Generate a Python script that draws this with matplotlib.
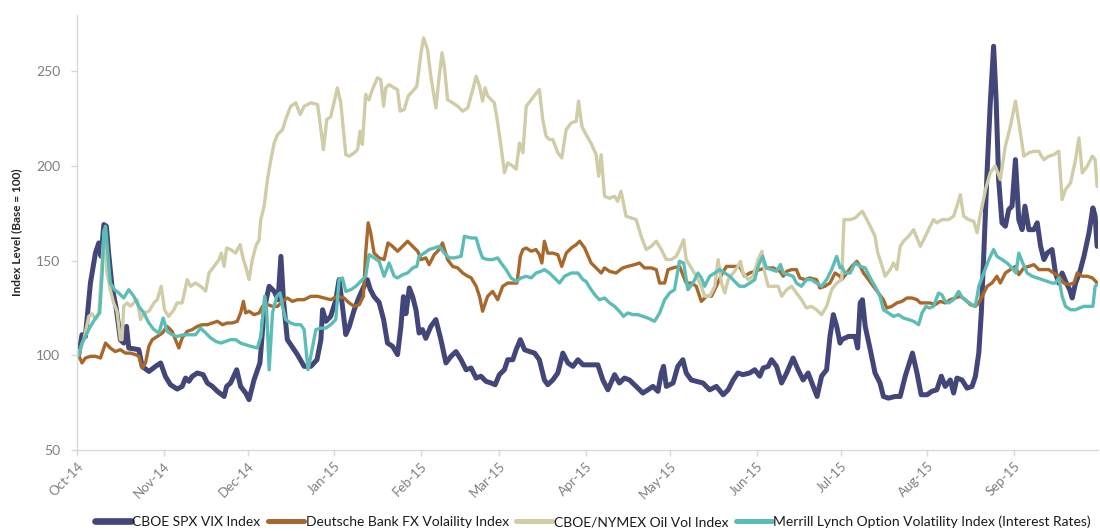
import matplotlib
matplotlib.use("Agg")
import matplotlib.pyplot as plt
import matplotlib.dates as mdates
import pandas as pd

# ---------------- data (days elapsed since base date, index level) ----------------
BASE_DATE = "2014-10-01"

vix_days = [0.6, 1.8, 3.0, 4.8, 6.6, 7.8, 8.6, 9.6, 10.5, 11.3, 12.5, 14.1, 15.5, 16.7, 17.7, 18.5, 22.1, 23.3, 25.7, 28.1,
            29.9, 31.6, 33.4, 35.8, 37.6, 38.8, 40.0, 41.2, 43.0, 45.1, 46.6, 48.4, 50.2, 52.6, 53.5, 54.9, 57.1, 58.5, 60.3, 61.5,
            63.3, 65.4, 66.9, 68.7, 70.5, 71.9, 72.9, 73.8, 75.2, 78.8, 81.2, 83.6, 85.8, 87.2, 87.8, 89.0,
            90.7, 92.5, 93.7, 94.9, 96.1, 97.3, 99.1, 100.9, 102.6, 103.8, 104.8, 106.2, 108.0, 109.6, 111.0, 112.8, 114.6, 115.8,
            116.7, 117.6, 118.8, 120.0, 121.2, 122.3, 123.5, 124.7, 126.5, 128.3, 130.1, 131.9, 133.7, 135.5, 137.3, 139.1, 140.9,
            142.7, 144.4, 146.2, 148.0, 149.5, 151.0, 152.8, 154.0, 155.8, 157.0, 158.5, 160.0, 161.8, 163.6, 165.3, 167.1, 168.3,
            170.1, 171.9, 173.7, 175.5, 177.3, 179.1, 180.9,
            182.0, 186.2, 188.0, 189.8, 192.2, 193.9, 195.7, 197.5, 199.9, 202.3, 204.1, 205.9, 207.7, 208.9, 209.7, 210.7, 213.1,
            214.8, 216.6, 217.8, 219.6, 221.4, 223.8, 226.2, 228.6, 231.0, 232.8, 234.6, 236.3, 238.1, 240.5, 242.3, 244.1, 245.3,
            247.1, 248.3, 250.1, 251.9, 253.7, 256.0, 257.8, 259.6, 261.4, 263.2, 264.6, 266.2, 268.0, 269.2, 270.4, 271.6, 272.8,
            273.4, 275.8, 278.2, 279.1, 280.0, 280.8, 281.8, 283.6, 285.3, 287.1, 288.3, 290.1, 292.5, 294.3, 296.1, 298.7, 300.3,
            301.8, 303.9, 305.6, 307.4, 309.0, 310.4, 312.2, 313.4, 314.6, 316.4, 318.2, 320.0, 321.2, 322.4, 323.3, 324.2, 325.4,
            326.5, 327.7, 328.6, 329.5, 330.7, 331.9, 333.1, 334.3, 335.5, 336.7, 337.9, 338.9, 340.3, 342.1, 343.3, 344.5, 345.7,
            346.9, 348.6, 349.8, 351.0, 352.2, 353.7, 354.9, 355.8, 357.0, 358.4, 360.0, 361.8, 363.2, 364.0, 364.7]
vix_vals = [100.4, 110.9, 110, 138.2, 154.1, 159.4, 152.3, 169.1, 168.2, 154, 136.5, 124.1, 108.3, 106.5, 115.3, 103.9, 103, 94.2, 91.5, 94.2,
            96, 88.9, 84.5, 82.2, 83.6, 88, 86.3, 88.9, 90.7, 89.8, 85.4, 83.6, 81, 78.3, 83.6, 85.4, 92.4, 83.6, 80.1, 76.6,
            87.1, 96, 124.1, 136.5, 133.8, 129.4, 152.3, 129.4, 108.3, 100.4, 94.2, 94.2, 97.7, 108.3, 124.1, 118,
            120.6, 129, 140, 126, 111, 115, 124, 131, 136.5, 140, 135, 131, 128, 119, 106.5, 104.8, 100.4, 115.3,
            131, 122, 135.6, 131, 124, 111.8, 113.6, 109, 115.3, 118.9, 108.3, 96, 99.5, 102, 97.7, 92.4, 93.3,
            88, 89, 86.3, 85.4, 84.5, 89.8, 92.4, 97.7, 97.7, 103, 108.3, 103, 102, 101.2, 97.7, 87, 84.5,
            87, 90.7, 101.2, 96, 94.2, 97.7, 95,
            95, 95, 87, 81.8, 89.8, 85.4, 88, 87, 83.6, 80.1, 81.8, 83.6, 81, 90.7, 94.2, 83.6, 85.4,
            94.2, 97.7, 90.7, 87, 86.3, 85.4, 81.8, 83.6, 79.2, 81.8, 87, 90.7, 89.8, 90.7, 92.4, 89, 93.3,
            94.2, 97.7, 94.2, 85.4, 90.7, 98.6, 92.4, 87, 90.7, 83.6, 78.3, 89, 92.4, 110, 121.5, 115.3, 106.5,
            108.3, 110, 110, 103.9, 127.7, 129.4, 115.3, 103, 90.7, 85.4, 78.3, 77.4, 78.3, 78.3, 89, 101.2, 90.7,
            79.2, 79.2, 81, 81.8, 89, 83.6, 87, 80.1, 88, 87, 82.7, 83.6, 89, 101.2, 122.4, 154, 198,
            233, 263.3, 235, 192.9, 170, 168.2, 177, 178.8, 203.4, 171.7, 166.4, 178.8, 166.4, 166.4, 170, 157.6, 150.6,
            154.1, 155.9, 143.5, 138.2, 143.5, 138.2, 134.7, 130.3, 138.2, 143.5, 152.3, 164.7, 177.9, 173.5, 157.6]

fx_days = [0.6, 1.8, 3.0, 4.8, 6.6, 8.4, 10.2, 11.9, 13.7, 15.5, 17.3, 19.1, 20.9, 22.1, 23.3, 24.5, 25.7, 26.9, 28.7, 30.5,
           32.2, 34.0, 35.2, 36.4, 37.6, 39.4, 41.2, 43.0, 44.8, 46.6, 48.4, 50.2, 52.0, 53.7, 55.5, 57.3, 58.5, 59.5, 60.3, 61.5,
           63.3, 65.1, 66.3, 68.1, 69.9, 71.7, 73.5, 75.2, 77.0, 78.8, 81.2, 83.6, 86.0, 88.4,
           90.7, 93.1, 95.5, 97.3, 99.1, 100.9, 102.4, 103.2, 104.1, 105.0, 106.2, 108.0, 109.8, 111.2, 112.8, 114.6, 116.4, 118.2,
           120.0, 121.8, 123.0, 124.7, 125.9, 127.7, 129.5, 130.7, 132.5, 134.3, 136.1, 137.9, 139.7, 140.9, 142.7, 143.9, 145.0,
           146.8, 148.6, 150.4, 152.2, 154.0, 155.8, 157.3, 158.5, 159.4, 160.6, 162.4, 164.1, 165.3, 166.2, 167.1, 168.3, 170.1,
           171.9, 173.3, 174.9, 176.7, 178.5, 179.7, 181.5,
           182.0, 183.8, 185.6, 187.4, 188.6, 190.4, 192.7, 195.1, 196.9, 199.3, 201.1, 202.9, 205.3, 207.1, 208.3, 210.1, 211.3,
           213.1, 215.4, 217.8, 219.6, 221.4, 223.2, 225.0, 226.8, 228.6, 230.4, 232.2, 234.6, 236.9, 238.7, 240.5, 242.3, 244.1,
           246.5, 248.9, 251.3, 252.5, 253.7, 255.5, 257.2, 258.4, 260.2, 262.0, 264.4, 265.6, 267.4, 269.2, 271.0, 272.8,
           273.4, 275.2, 277.0, 278.8, 280.0, 281.2, 283.0, 284.7, 286.5, 288.3, 289.5, 291.3, 293.1, 294.9, 296.7, 298.5, 300.3,
           301.5, 303.3, 305.0, 306.8, 308.6, 310.4, 312.2, 314.0, 315.8, 317.6, 319.4, 321.2, 322.4, 323.6, 325.4, 327.1, 328.9,
           330.1, 331.9, 333.7, 335.5, 336.7, 338.5, 340.3, 342.1, 343.9, 345.7, 347.4, 349.2, 351.0, 352.8, 354.6, 356.4, 357.6,
           359.4, 361.2, 363.0, 364.2, 364.7]
fx_vals = [100, 96, 98.6, 99.5, 99.5, 98.6, 106.5, 103.9, 102, 103, 101.2, 101.2, 100.4, 99.5, 93.3, 96, 104.8, 108.3, 110, 111.8,
           115.3, 112.7, 108.3, 103.9, 109.2, 112.7, 113.6, 115.3, 116.2, 116.2, 117.1, 118, 116.2, 117.1, 117.1, 118, 122.4, 128.5, 122.4, 123.3,
           121.5, 122.4, 125.9, 126.8, 125.9, 125.9, 128.5, 130.3, 128.5, 129.4, 129.4, 131.2, 131.2, 130.3,
           129.4, 131.2, 130.3, 127.7, 125.9, 126.8, 131.2, 154, 170, 164.7, 154, 151.5, 150.6, 159.4, 157.6, 155, 157.6, 160.3,
           157.6, 155, 150.6, 151.5, 147.9, 153.2, 155.9, 159.4, 150.6, 147, 146.2, 143.5, 141.8, 141, 136.5, 131.2, 123.3,
           131.2, 133.8, 129.4, 136.5, 138.2, 138.2, 138.2, 152.3, 155.9, 156.7, 155, 155.9, 153.2, 148.8, 160.3, 154, 154,
           153.2, 147, 154, 156.7, 158.5, 160.3, 156.7,
           155, 148.8, 146.2, 143.5, 146.2, 144.4, 143.5, 146.2, 147, 147.9, 148.8, 146.2, 146.2, 145.3, 138.2, 138.2, 145.3,
           146.2, 147, 138.2, 138.2, 136.5, 128.5, 131.2, 131.2, 136.5, 142.6, 147, 147, 147, 141.8, 143.5, 144.4, 145.3,
           146.2, 146.2, 144.4, 141.8, 144.4, 145.3, 145.3, 140.9, 140, 140.9, 140, 135.6, 136.5, 138.2, 143.5, 141.8,
           140, 143.5, 147, 149.7, 147, 143.5, 140, 136.5, 133, 129.4, 125, 125.9, 127.7, 128.5, 130.3, 130.3, 129.4,
           127.7, 127.7, 127.7, 126.8, 128.5, 127.7, 129.4, 130.3, 131.2, 129.4, 126.8, 125.9, 127.7, 131.2, 136.5, 138.2, 141.8,
           138.2, 143.5, 145.3, 147, 142.6, 146.2, 147, 147.9, 145.3, 145.3, 145.3, 143.5, 141.8, 138.2, 137.4, 138.2, 143.5,
           141.8, 141.8, 140.9, 139.1, 138.2]

oil_days = [0.6, 2.4, 4.2, 5.4, 6.6, 7.8, 9.0, 9.8, 10.7, 11.9, 13.1, 14.3, 15.5, 16.1, 16.7, 17.9, 19.1, 20.3, 21.5, 22.7,
            23.9, 25.7, 27.5, 28.7, 30.1, 31.3, 32.8, 34.6, 35.8, 37.6, 39.4, 40.6, 42.4, 44.2, 46.0, 47.2, 49.0, 50.8, 51.6, 52.6,
            53.5, 54.9, 56.7, 58.3, 59.5, 60.3, 61.5, 62.7, 63.9, 65.1, 65.7, 66.9, 68.1, 69.3, 70.5, 71.7, 73.5, 74.6, 76.4, 78.2,
            79.8, 81.2, 83.6, 86.0, 87.2, 88.1, 89.3,
            90.7, 93.1, 94.3, 96.1, 97.3, 99.1, 100.3, 101.2, 102.0, 103.2, 104.4, 105.6, 107.4, 108.6, 109.6, 110.4, 111.6, 113.4,
            114.6, 115.5, 117.0, 118.4, 120.0, 121.5, 123.0, 123.9, 125.3, 126.5, 128.3, 129.5, 130.5, 131.3, 132.5, 134.3, 136.1,
            137.9, 139.7, 141.5, 142.7, 143.9, 145.0, 145.9, 146.8, 149.2, 150.4, 151.6, 152.8, 154.0, 155.8, 157.0, 158.2, 159.4,
            160.6, 162.4, 163.8, 165.3, 166.5, 167.7, 168.9, 170.1, 171.9, 173.3, 174.9, 176.7, 178.5, 179.3, 180.5,
            182.0, 183.8, 185.6, 186.5, 187.4, 188.6, 190.4, 192.2, 193.3, 194.5, 196.3, 198.1, 199.9, 201.7, 203.5, 205.3, 207.1,
            208.9, 210.7, 212.5, 214.2, 215.4, 216.9, 217.8, 219.6, 221.4, 223.2, 224.4, 226.2, 228.0, 229.2, 230.4, 231.6, 232.8,
            234.6, 236.3, 237.2, 238.1, 239.9, 241.7, 243.5, 244.9, 245.9, 247.1, 248.9, 250.7, 251.9, 253.7, 255.5, 257.2, 259.0,
            260.8, 262.6, 264.4, 266.2, 268.0, 269.8, 271.6, 273.4, 274.2,
            274.6, 276.4, 278.2, 280.0, 280.8, 282.4, 284.2, 285.3, 286.3, 287.5, 288.9, 290.7, 291.9, 293.1, 294.3, 295.5, 297.3,
            299.1, 300.3, 301.5, 303.3, 305.0, 306.2, 307.4, 309.2, 311.6, 313.4, 314.6, 315.8, 317.0, 318.8, 320.6, 321.8, 322.6,
            323.6, 324.8, 326.5, 328.3, 330.1, 331.9, 333.7, 335.5, 337.3, 338.5, 340.3, 342.1, 343.9, 344.5, 345.7, 347.4, 349.2,
            351.0, 352.2, 353.4, 355.2, 357.0, 358.2, 359.4, 361.2, 363.0, 364.0, 364.7]
oil_vals = [101, 108, 120.6, 122, 119, 122, 150.6, 166.4, 143.5, 134.7, 127.7, 123.3, 108.3, 108.3, 126, 127.7, 126, 127.7, 129.4, 118.9,
            122.4, 123.3, 127.7, 129.4, 136.5, 124, 120.6, 124, 127.7, 127.7, 140, 136.5, 138.2, 136.5, 134, 143.5, 147, 150.6, 154, 147,
            156.7, 155.9, 154, 158.5, 150.6, 147, 140, 150.6, 157.6, 161, 171.7, 178.8, 192.9, 203.4, 212.2, 216.6, 219.3, 224.6, 231.6, 233.4,
            227.2, 231.6, 233.4, 232.5, 219.3, 208.7, 224.6,
            226, 241.3, 233.4, 206, 205.2, 207, 208.7, 218.4, 211.4, 237.8, 235, 240.4, 246.6, 245.7, 231.6, 241.3, 243, 241.3,
            240.4, 229, 229.9, 237, 239.5, 242.2, 259.8, 267.7, 261.6, 247.5, 230.7, 247.5, 259.8, 252.8, 235, 233.4, 231.6,
            229, 230.7, 240.4, 247.5, 242.2, 234.3, 241.3, 237, 233.4, 222.8, 210.5, 196.5, 201.7, 200, 198.3, 212.2, 207,
            231.6, 235, 237.8, 240.4, 224.6, 215.8, 214, 214, 207, 204.3, 219.3, 222.8, 223.7, 234.3, 221,
            216.6, 212, 206, 194.6, 206, 184, 183, 184, 181.4, 186.7, 173.5, 172.6, 171.7, 162.9, 155.9, 157.6, 160.3,
            155.9, 150.6, 150.6, 152.3, 155.9, 161.1, 150.6, 146.2, 141.8, 136.5, 131.2, 131.2, 136.5, 150.6, 138.2, 133, 140,
            143.5, 147, 149.7, 143.5, 140, 141.8, 150.6, 155, 143.5, 136.5, 136.5, 136.5, 131.2, 134.7, 136.5, 133, 129.4,
            125, 125.9, 124.1, 121.5, 125.9, 134.7, 138.2, 140, 171.7,
            171.7, 171.7, 172.6, 175.2, 176.1, 171.7, 166.4, 162.9, 154, 148.8, 141.8, 145.3, 148.8, 145.3, 157.6, 160.3, 162.9,
            166.4, 162, 157.6, 162.9, 168.2, 171.7, 170, 171.7, 171.7, 173.5, 178.8, 184.9, 173.5, 171.7, 170.8, 164.7, 171.7,
            178.8, 187.6, 196.4, 200, 192.9, 210.5, 221, 234.3, 217.5, 205.2, 207, 207.8, 207.8, 206, 203.4, 205.2, 206,
            207.8, 182.3, 187.6, 191.1, 203.4, 214.9, 196.4, 200, 205.2, 203.4, 189.3]

move_days = [0.6, 1.8, 3.0, 4.8, 6.6, 8.1, 9.0, 9.6, 10.2, 11.0, 11.9, 13.4, 14.9, 16.7, 18.5, 20.3, 22.1, 23.9, 25.7, 27.5,
             29.3, 30.8, 32.2, 34.0, 35.8, 38.2, 40.6, 42.4, 44.2, 46.0, 47.8, 49.6, 51.4, 53.1, 54.9, 56.7, 58.5, 60.3, 62.1, 64.5,
             65.7, 67.1, 67.8, 68.7, 69.9, 71.4, 72.6, 73.5, 74.6, 76.4, 78.2, 80.0, 81.2, 82.6, 83.8, 85.4, 87.2, 89.0,
             90.7, 92.5, 93.7, 94.9, 96.1, 97.9, 99.7, 101.4, 103.2, 104.4, 106.2, 108.0, 109.8, 111.6, 113.4, 114.6, 116.4, 118.2,
             120.0, 121.5, 122.3, 124.1, 125.9, 127.7, 129.5, 131.3, 133.1, 134.9, 137.3, 138.5, 140.9, 142.7, 143.9, 145.0, 146.8,
             148.6, 150.4, 151.6, 153.4, 155.2, 157.0, 158.8, 160.6, 162.4, 164.1, 165.9, 167.1, 168.9, 170.7, 172.5, 174.3, 176.7,
             179.1, 180.9,
             182.0, 183.8, 185.6, 186.8, 188.6, 190.4, 192.2, 193.9, 195.4, 196.9, 198.7, 200.5, 202.3, 204.1, 206.5, 208.3, 210.1,
             211.9, 213.6, 215.4, 216.9, 218.4, 220.2, 222.0, 223.2, 224.4, 226.2, 228.0, 229.8, 231.6, 233.4, 235.1, 236.9, 238.7,
             240.5, 242.3, 243.5, 245.1, 246.5, 248.3, 250.1, 251.5, 252.5, 254.3, 256.0, 257.2, 259.0, 260.8, 262.6, 264.4, 266.2,
             268.0, 269.8, 271.6, 272.8,
             273.4, 274.6, 276.4, 278.2, 280.0, 281.8, 283.6, 285.3, 287.1, 288.3, 290.1, 291.9, 293.7, 295.5, 297.3, 299.1, 300.9,
             302.1, 303.5, 304.7, 306.2, 308.0, 309.2, 310.4, 311.6, 313.4, 315.2, 316.6, 318.2, 320.0, 321.2, 322.4, 324.2, 326.0,
             327.7, 328.9, 330.7, 332.5, 334.3, 335.7, 336.7, 338.1, 339.7, 341.5, 343.3, 345.1, 346.9, 348.6, 349.8, 351.0, 352.2,
             353.4, 355.2, 357.0, 358.4, 360.0, 361.8, 363.2, 364.0, 364.7]
move_vals = [100, 106.5, 110, 115.3, 119.7, 122.4, 143.5, 164.7, 168.2, 154, 138.2, 134.7, 133, 130.3, 134.7, 131.2, 125.9, 122.4, 117.1, 113.6,
             111.8, 119.7, 112.7, 110.9, 110, 110.9, 110.9, 110.9, 114.4, 111.8, 109.2, 107.4, 106.5, 107.4, 108.3, 108.3, 106.5, 105.6, 104.8, 103.9,
             110, 131.2, 124.1, 92.4, 122.4, 131.2, 133, 125.9, 118.9, 117.1, 116.2, 116.2, 113.6, 92.4, 101.2, 113.6, 114.4, 114.4,
             116.2, 118.9, 140, 140.9, 133.8, 134.7, 136.5, 139.1, 141.8, 153.2, 151.5, 149.7, 141.8, 148.8, 141.8, 140.9, 142.6, 143.5,
             146.2, 147, 152.3, 154, 155.9, 156.7, 157.6, 154, 151.5, 151.5, 152.3, 162.9, 162, 162, 155.9, 151.5, 150.6,
             150.6, 151.5, 148.8, 145.3, 140.9, 139.1, 140.9, 141.8, 140.9, 143.5, 144.4, 145.3, 143.5, 140.9, 138.2, 141.8, 143.5,
             143.5, 140,
             139, 134.7, 131.2, 129.4, 130.3, 127.7, 125.9, 123.3, 120.6, 122.4, 121.5, 121.5, 120.6, 119.7, 118, 122.4, 129.4,
             133, 134.7, 149.7, 148.8, 134.7, 138.2, 143.5, 141, 136.5, 141.8, 143.5, 145.3, 143.5, 141.8, 139.1, 136.5, 136.5,
             138.2, 140, 147, 152.3, 146.2, 145.3, 144.4, 148, 143.5, 142.6, 141.8, 138.2, 136.5, 140, 140, 138.2, 136.5,
             140, 145.3, 152.3, 146.2,
             147, 143.5, 143.5, 148.8, 147, 146.2, 140.9, 136.5, 131.2, 124.1, 122.4, 120.6, 121.5, 119.7, 118.9, 118, 116.2,
             122.4, 125.9, 125, 125.9, 132.9, 132, 128.5, 127.7, 129.4, 133.8, 130.3, 128.5, 126.8, 125.9, 136.5, 143.5, 150.6,
             155.9, 152.3, 150.6, 148.8, 146.2, 143.5, 154, 148.8, 143.5, 141.8, 140.9, 140, 139.1, 138.2, 138.2, 140.9, 131.2,
             125.9, 124.1, 124.1, 125, 125.9, 125.9, 125.9, 136.5, 137.4]

series_names = ["CBOE SPX VIX Index", "Deutsche Bank FX Volaility Index",
                "CBOE/NYMEX Oil Vol Index", "Merrill Lynch Option Volatility Index (Interest Rates)"]
y_ticks = [50, 100, 150, 200, 250]
y_label = "Index Level (Base = 100)"

# ---------------- styling ----------------
colors = ["#424678", "#A8682B", "#D0CCA6", "#5CBDB7"]
widths = [3.6, 2.4, 2.4, 2.4]

plt.rcParams["font.family"] = ["Lato", "DejaVu Sans"]

fig = plt.figure(figsize=(11.0, 5.31), dpi=100)
ax = fig.add_axes([0.07, 0.1525, 0.928, 0.82])

base = pd.Timestamp(BASE_DATE)
all_days = [vix_days, fx_days, oil_days, move_days]
all_vals = [vix_vals, fx_vals, oil_vals, move_vals]
for name, d, v, c, w in zip(series_names, all_days, all_vals, colors, widths):
    dates = base + pd.to_timedelta(d, unit="D")
    ax.plot(dates, v, color=c, lw=w, label=name, solid_joinstyle="round", solid_capstyle="round")

ax.set_ylim(50, 280)
ax.set_yticks(y_ticks)
ax.set_xlim(base, base + pd.Timedelta(days=364.95))
ax.xaxis.set_major_locator(mdates.MonthLocator())
ax.xaxis.set_major_formatter(mdates.DateFormatter("%b-%y"))

for s in ["top", "right"]:
    ax.spines[s].set_visible(False)
for s in ["left", "bottom"]:
    ax.spines[s].set_color("#D9D9D9")
    ax.spines[s].set_linewidth(1.0)

ax.tick_params(axis="both", colors="#D9D9D9", length=4, width=1.0)
ax.tick_params(axis="y", labelcolor="#7F7F7F", labelsize=10, pad=8)
ax.tick_params(axis="x", labelcolor="#7F7F7F", labelsize=9.5, pad=3)
for lbl in ax.get_xticklabels():
    lbl.set_rotation(45)
    lbl.set_ha("right")
    lbl.set_rotation_mode("anchor")

ax.set_ylabel(y_label, fontsize=8.5, fontweight="bold", color="#262626")
ax.yaxis.set_label_coords(-0.054, 0.5)

leg = fig.legend(loc="center", bbox_to_anchor=(0.539, 0.017), ncol=4, frameon=False,
                 fontsize=10, handlelength=2.6, handletextpad=0.1, columnspacing=0.55)
for line, w in zip(leg.get_lines(), widths):
    line.set_linewidth(w + 1.2)
for t in leg.get_texts():
    t.set_color("#1A1A1A")

fig.savefig("out.png", dpi=100)
